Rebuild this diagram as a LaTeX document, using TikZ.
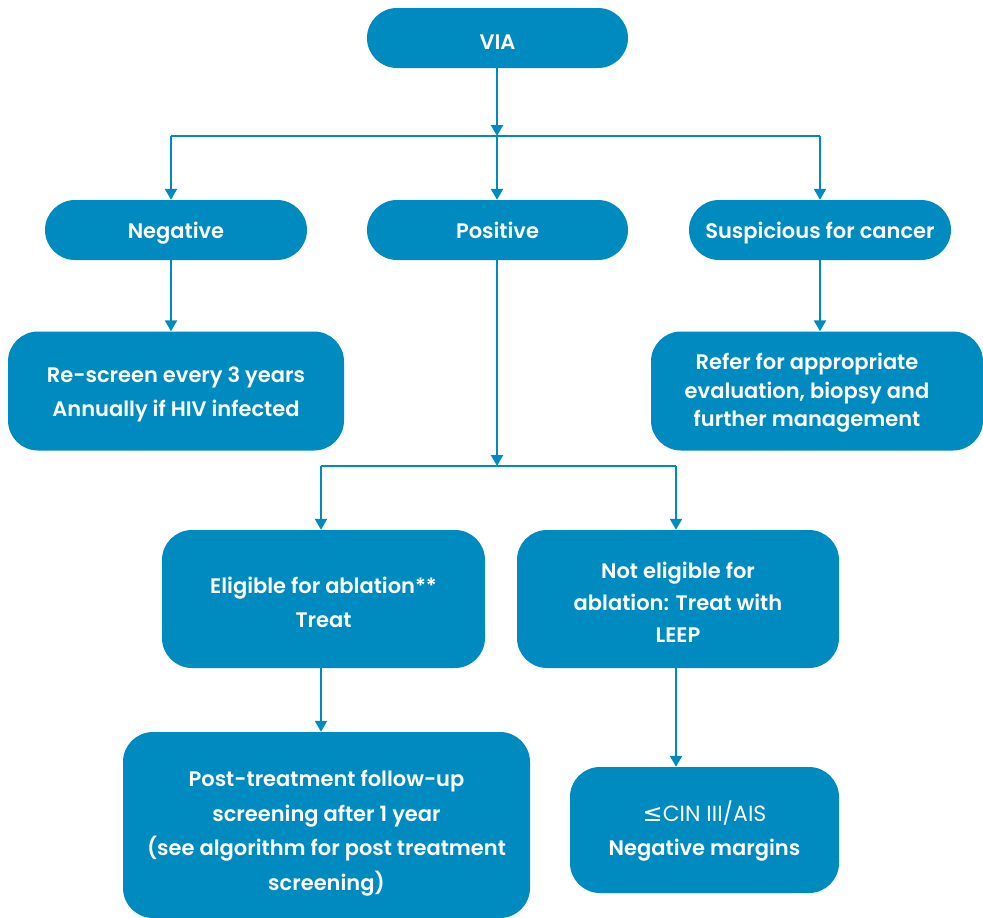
\documentclass[tikz,border=0pt]{standalone}
\usepackage{fontspec}
\setmainfont{Poppins}[BoldFont={Poppins SemiBold}]
\newfontfamily\symfont{DejaVu Sans}
\usetikzlibrary{arrows.meta}
\definecolor{flowblue}{RGB}{0,139,192}
\begin{document}
\begin{tikzpicture}[x=1pt,y=-1pt,
  box/.style={fill=flowblue, draw=none, rounded corners=#1, inner sep=0pt},
  box/.default=30pt,
  txt/.style={text=white, align=center, inner sep=0pt,
    font=\fontsize{21}{34}\selectfont\bfseries},
  txtline/.style={txt, anchor=base},
  link/.style={draw=flowblue, line width=2.3pt},
  arr/.style={link, -{Triangle[length=11pt,width=12pt]}}]
\useasboundingbox (0,0) rectangle (983,918);

% top level
\node[box, minimum width=261pt, minimum height=60pt] (via) at (497.5,38) {};
\node[txtline] (viatext) at ([yshift=-11pt]via.center) {VIA};

% second level
\node[box, minimum width=262pt, minimum height=60pt] (neg) at (176,230) {};
\node[txtline] (negtext) at ([yshift=-8pt]neg.center) {Negative};
\node[box, minimum width=261pt, minimum height=60pt] (pos) at (497.5,230) {};
\node[txtline] (postext) at ([yshift=-8pt]pos.center) {Positive};
\node[box, minimum width=262pt, minimum height=60pt] (sus) at (820,230) {};
\node[txtline] (sustext) at ([yshift=-8pt]sus.center) {Suspicious for cancer};

% outcomes of negative / suspicious
\node[box, minimum width=336pt, minimum height=119pt] (rescreen) at (176,391) {};
\node[txt] (rescreentext) at ([yshift=-3pt]rescreen.center)
  {Re-screen every 3 years\\Annually if HIV infected};
\node[box, minimum width=332pt, minimum height=119pt] (refer) at (817,391) {};
\node[txt, font=\fontsize{21}{28.5}\selectfont\bfseries] (refertext)
  at ([xshift=-10pt,yshift=-2pt]refer.center)
  {Refer for appropriate\\evaluation, biopsy and\\further management};

% treatment branch
\node[box, minimum width=323pt, minimum height=138pt] (elig) at (323.5,599) {};
\node[txt] (eligtext) at ([yshift=-3pt]elig.center)
  {Eligible for ablation**\\Treat};
\node[box, minimum width=322pt, minimum height=138pt] (noelig) at (678,599) {};
\node[txt, font=\fontsize{21}{32}\selectfont\bfseries] (noeligtext)
  at ([yshift=-3pt]noelig.center)
  {Not eligible for\\ablation: Treat with\\LEEP};
\node[box, minimum width=407pt, minimum height=186pt] (post) at (326.5,825) {};
\node[txt, font=\fontsize{21}{34.5}\selectfont\bfseries] (posttext)
  at ([yshift=-8pt]post.center)
  {Post-treatment follow-up\\screening after 1 year\\(see algorithm for post treatment\\screening)};
\node[box, minimum width=269pt, minimum height=126pt] (cin) at (704.5,830) {};
\node[txt] (cintext) at ([yshift=-1pt]cin.center)
  {{\mdseries\fontsize{22}{34}\selectfont{\symfont\fontsize{24}{34}\selectfont ≤}CIN III/AIS}\\Negative margins};

% junctions
\coordinate (j1) at (497,136);
\coordinate (jneg) at (171,136);
\coordinate (jsus) at (820,136);
\coordinate (j2) at (497,466);
\coordinate (jel) at (321,466);
\coordinate (jne) at (676,466);

% connectors
\draw[arr] (via.south -| j1) -- (j1);
\draw[link] (jneg) -- (jsus);
\draw[arr] (jneg) -- (jneg |- neg.north);
\draw[arr] (j1) -- (j1 |- pos.north);
\draw[arr] (jsus) -- (jsus |- sus.north);
\draw[arr] (neg.south -| jneg) -- (jneg |- rescreen.north);
\draw[arr] (sus.south -| jsus) -- (jsus |- refer.north);
\draw[arr] (pos.south -| j2) -- (j2);
\draw[link] (jel) -- (jne);
\draw[arr] (jel) -- (jel |- elig.north);
\draw[arr] (jne) -- (jne |- noelig.north);
\draw[arr] (elig.south -| jel) -- (jel |- post.north);
\draw[arr] (noelig.south -| jne) -- (jne |- cin.north);
\end{tikzpicture}
\end{document}
